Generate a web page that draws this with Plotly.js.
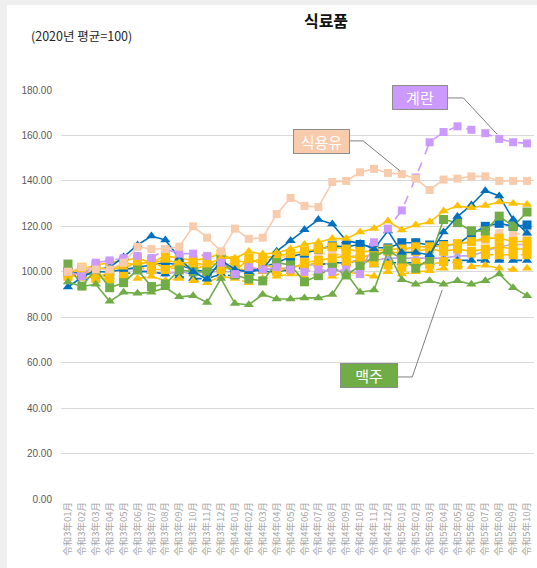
<!DOCTYPE html>
<html><head><meta charset="utf-8">
<script src="https://cdn.plot.ly/plotly-3.0.1.min.js"></script>
<style>
html,body{margin:0;padding:0;background:#efefef;width:537px;height:568px;overflow:hidden}
#chart{position:absolute;left:7px;top:5px;width:530px;height:563px;background:#fff}
</style></head><body>
<div id="chart"></div>
<script>
const months = [];
for (const [y, n] of [[3,12],[4,12],[5,10]]) for (let m=1;m<=n;m++) months.push('令和'+y+'年'+String(m).padStart(2,'0')+'月');

const egg      = [100,98,104,105,106,107,106,110,108,108,107,104,99,102,101,102,101,100,101,100,101,99,113,119,127,141.5,157,161.5,164,162.5,161,158.5,157,156.5];
const oil      = [100,102,101,101,104,111,110,110,111,120,115,109,119,114.5,115,125.4,132.5,129,128.5,139.5,140,143.8,145.3,143.5,143,141,136,140.6,141,142,142,140,140,140];
const beer     = [95.5,93.5,94.5,87,91,90.5,91,93,89,89.5,86.5,97,86,85.5,90,88,88,88.5,88.5,90,99.5,91,92,109,96.5,94.5,96,94.5,96,94.5,96,99,93,89.5];
const greenSq  = [103.4,93.7,101,93,95.2,100.8,93.5,94.6,100.8,100,100,105.6,98.6,96.8,96,104,103,95.6,98.3,102,98.6,102.5,106.6,109.6,105.6,101.5,105.5,123,121.6,118,118,124.5,120,126.3];
const blueTri  = [93.3,97.5,100.8,102,106.5,111.8,115.7,114,106,100,96.7,105,101,100,101,109,113.7,118.5,123,121,113.7,112.5,110,118,108.5,108.5,107.5,117.5,124.3,129.4,135.7,133.4,123,117];
const blueSq   = [100,99,100,100,101,102,103,104,103,101,100,102,101,100,102,104,106.6,108.2,110,111.4,111,112,110.7,110.5,112.8,112.8,111.8,112,112,116.5,120,121.3,120,120.6];
const blueTriD = [100,99,99,98,99,100,100,99,98,97,97,99,98,98,100,100,101,102,103,104,104,105,103,104,104,104,104,105,105,105,105,105,105,105];
const goldTri  = [100,101,102,101,102,104,104,105,104,104,103,106,106,108.9,107.8,108.4,110,112,113,114.6,114.6,117.5,119,122.3,118.4,120.6,121.9,126.7,128.9,128.2,129.2,130.7,130,129.6];
const goldTriD = [99,97,98,96,98,97,98,96,97,96,95.2,98,97,95.2,97,98,99,98,99,98,100,99,98,100,99,100,100.4,101.5,102,102.2,102.9,101.5,101,101.6];
const goldSqA  = [100,101,103,104,105,106,104,107,106,105,106,108,105,104,106,107,108,109,110,111,110,109,109,110,110,111,111,111.5,112.4,113.3,114.8,114.8,113.3,113.3];
const goldSqB  = [98,100,99,97,98,102,101,101,102,103,100,101,102,100,101,100,102,103,104,103,104,105,104,103,102,104,103,104.5,103.8,108.3,107.5,107.5,107.5,107.5];
const goldSqC  = [99,102,97,100,104,103,105,101,104,101,103,104,100,106,103,102,101,104,105,106,107,106,108,109,108,109,110,109,110,109,110,111,110,110];
const lavender = [100,99,100,100,101,101,100,99,100,99,100,100,100,100,101,101,102,103,103,104,104,105,105,106,106,106,106,106,107,107,109,111,112,112];
const peachD   = [100,100,101,102,102,103,105,104,103,102,104,103,104,104,105,106,107,107,108,108,107,107,109,110,110,110,111,111,112,113,114,117,116.5,117];

const yTicks = [0,20,40,60,80,100,120,140,160,180];
const idx = months.map((_, i) => i);

const C = {purple:'#cc99ff', peach:'#f8cbad', green:'#70ad47', blue:'#0070c0', gold:'#ffc000', lav:'#b9a6f2'};

function tr(y, color, sym, dash, size, width) {
  return {x: idx, y: y, type:'scatter', mode:'lines+markers', hoverinfo:'skip',
    line:{color:color, width:width||1.6, dash:dash||'solid'},
    marker:{color:color, symbol:sym, size:size||9, line:{width:0}}};
}
const data = [
  tr(peachD, C.peach, 'square', 'dash', 8),
  tr(lavender, C.lav, 'square', 'solid', 6),
  tr(blueTriD, C.blue, 'triangle-up', 'dash', 9),
  tr(blueSq, C.blue, 'square', 'solid', 9),
  tr(goldTriD, C.gold, 'triangle-up', 'dash', 9),
  tr(goldSqB, C.gold, 'square', 'dash', 9),
  tr(goldSqC, C.gold, 'square', 'solid', 9),
  tr(goldSqA, C.gold, 'square', 'solid', 9),
  tr(greenSq, C.green, 'square', 'solid', 9),
  tr(blueTri, C.blue, 'triangle-up', 'solid', 9),
  tr(goldTri, C.gold, 'triangle-up', 'solid', 9),
  tr(egg, C.purple, 'square', 'dash', 8),
  tr(oil, C.peach, 'square', 'solid', 8),
  tr(beer, C.green, 'triangle-up', 'solid', 9)
];

const boxFont = {family:'Noto Sans CJK KR', size:15, color:'#ffffff'};
function box(text, x, y, bg, w) {
  return {text:text, x:x, y:y, xref:'x', yref:'y', showarrow:false, bgcolor:bg,
    bordercolor:'#8c8c8c', borderwidth:1, borderpad:2, width:w, height:19, font:boxFont};
}
function connector(x0, y0, x1, x2, y2) {
  return {type:'path', xref:'x', yref:'y', path:`M ${x0} ${y0} L ${x1} ${y0} L ${x2} ${y2}`,
    line:{color:'#7f7f7f', width:1}};
}

const layout = {
  width:530, height:563,
  margin:{l:54, r:3, t:85, b:69},
  paper_bgcolor:'#ffffff', plot_bgcolor:'#ffffff',
  showlegend:false,
  font:{family:'Liberation Sans, Noto Sans CJK KR', color:'#595959'},
  title:{text:'<b>식료품</b>', x:(326-7)/530, xref:'container', xanchor:'center',
         y:1-(21-5)/563, yref:'container', yanchor:'middle',
         font:{family:'Noto Sans CJK KR', size:16, color:'#111'}},
  xaxis:{range:[-0.5, 33.5], tickvals:idx, ticktext:months, tickangle:-90,
         showgrid:false, zeroline:false, showline:false, ticks:'',
         tickfont:{family:'Noto Sans CJK JP', size:9.5, color:'#a6a6a6'}, fixedrange:true},
  yaxis:{range:[0,180], tickvals:yTicks, ticktext:yTicks.map(v=>v.toFixed(2)),
         showgrid:true, gridcolor:'#d9d9d9', gridwidth:1, zeroline:false, showline:false, ticks:'',
         ticklabelstandoff:8,
         tickfont:{family:'Liberation Sans', size:10, color:'#595959'}, fixedrange:true},
  annotations:[
    {text:'(2020년 평균=100)', xref:'paper', yref:'paper', x:(29-61)/473, y:1+55/409,
     xanchor:'left', yanchor:'middle', showarrow:false,
     font:{family:'Noto Sans CJK KR', size:12.5, color:'#262626'}},
    box('계란', 25.3, 176.5, C.purple, 50),
    box('식용유', 18.2, 157.3, C.peach, 51),
    box('맥주', 21.65, 54.4, C.green, 52)
  ],
  shapes:[
    connector(27.3, 176.5, 28.42, 31-0.15, egg[31]+2),
    connector(20.15, 157.6, 21.22, 24-0.15, oil[24]+1.5),
    connector(23.7, 53.7, 24.75, 27-0.1, beer[27]-2.5)
  ]
};
Plotly.newPlot('chart', data, layout, {displayModeBar:false, staticPlot:true});
</script></body></html>
